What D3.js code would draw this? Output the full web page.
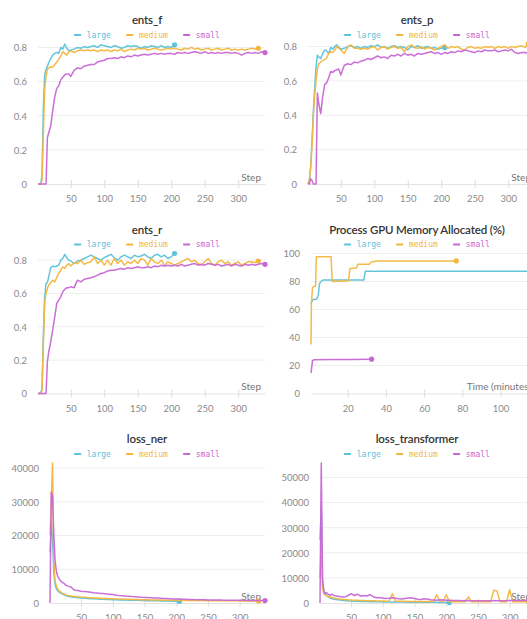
<!DOCTYPE html>
<html><head><meta charset="utf-8">
<script src="https://cdn.jsdelivr.net/npm/d3@7"></script>
<style>
html,body{margin:0;padding:0;background:#fff;overflow:hidden;}
svg{display:block;}
</style></head><body>
<svg id="chart" width="527" height="619"></svg>
<script>
// ---------- shared step grid ----------
const stepGrid = [
  1,3,5,7,9,11,13,15,17,
  20,23,26,29,32,35,38,41,44,47,50,
  55,60,65,70,75,80,85,90,95,100,
  105,110,115,120,125,130,135,140,145,150,
  155,160,165,170,175,180,185,190,195,200,
  205,
  210,215,220,225,230,235,240,245,250,255,
  260,265,270,275,280,285,290,295,300,305,
  310,315,320,325,330,
  335,340
];
const runNames = ["large","medium","small"];

// ---------- ents_f ----------
const entsF_large = [
  0,0,0,0.05,0.45,0.64,0.67,0.69,0.71,
  0.735,0.755,0.765,0.77,0.765,0.80,0.79,0.82,0.795,0.78,0.785,
  0.79,0.80,0.795,0.805,0.80,0.805,0.81,0.80,0.815,0.81,
  0.805,0.80,0.81,0.805,0.795,0.80,0.81,0.805,0.81,0.805,
  0.795,0.805,0.80,0.81,0.805,0.80,0.81,0.80,0.805,0.80,
  0.815];
const entsF_medium = [
  0,0,0,0.02,0.30,0.56,0.63,0.67,0.68,
  0.685,0.685,0.70,0.715,0.73,0.75,0.775,0.765,0.755,0.775,0.78,
  0.77,0.78,0.785,0.78,0.785,0.78,0.785,0.775,0.785,0.78,
  0.785,0.775,0.785,0.78,0.79,0.775,0.785,0.79,0.785,0.795,
  0.79,0.795,0.785,0.79,0.795,0.79,0.785,0.79,0.795,0.79,
  0.795,
  0.79,0.785,0.795,0.79,0.80,0.79,0.795,0.785,0.79,0.795,
  0.785,0.79,0.795,0.785,0.79,0.795,0.785,0.79,0.785,0.79,
  0.785,0.79,0.795,0.79,0.795];
const entsF_small = [
  0,0,0,0,0,0,0,0.27,0.30,
  0.34,0.43,0.51,0.56,0.575,0.61,0.625,0.64,0.645,0.645,0.63,
  0.665,0.68,0.675,0.69,0.695,0.70,0.70,0.715,0.72,0.725,
  0.735,0.735,0.74,0.735,0.745,0.74,0.75,0.745,0.755,0.75,
  0.755,0.76,0.755,0.76,0.765,0.76,0.765,0.76,0.765,0.765,
  0.76,
  0.77,0.765,0.77,0.765,0.77,0.775,0.77,0.765,0.775,0.765,
  0.77,0.765,0.77,0.765,0.77,0.77,0.765,0.77,0.765,0.755,
  0.765,0.77,0.765,0.77,0.765,
  0.775,0.77];

// ---------- ents_p ----------
const entsP_large = [
  0,0.02,0.10,0.25,0.42,0.56,0.68,0.75,0.74,
  0.73,0.76,0.78,0.775,0.76,0.795,0.785,0.80,0.81,0.795,0.785,
  0.79,0.80,0.805,0.795,0.80,0.79,0.80,0.795,0.805,0.80,
  0.81,0.795,0.80,0.79,0.80,0.805,0.795,0.80,0.795,0.78,
  0.80,0.795,0.805,0.79,0.795,0.80,0.79,0.795,0.785,0.79,
  0.795];
const entsP_medium = [
  0,0.02,0.10,0.22,0.40,0.52,0.60,0.67,0.70,
  0.71,0.72,0.725,0.735,0.76,0.77,0.765,0.78,0.80,0.79,0.78,
  0.76,0.795,0.81,0.79,0.79,0.785,0.79,0.785,0.795,0.80,
  0.78,0.795,0.80,0.785,0.795,0.80,0.79,0.795,0.77,0.80,
  0.81,0.795,0.79,0.80,0.785,0.795,0.79,0.78,0.79,0.80,
  0.81,
  0.79,0.80,0.795,0.80,0.785,0.78,0.795,0.80,0.79,0.795,
  0.79,0.80,0.795,0.80,0.79,0.80,0.795,0.80,0.79,0.80,
  0.795,0.80,0.805,0.795,0.815];
const entsP_small = [
  0,0,0.03,0.02,0,0,0,0.53,0.47,
  0.41,0.51,0.58,0.59,0.62,0.655,0.65,0.66,0.665,0.67,0.635,
  0.69,0.70,0.695,0.71,0.705,0.715,0.72,0.73,0.725,0.735,
  0.745,0.735,0.74,0.73,0.75,0.745,0.755,0.745,0.76,0.75,
  0.755,0.745,0.76,0.755,0.76,0.765,0.77,0.76,0.765,0.755,
  0.765,
  0.76,0.77,0.765,0.775,0.77,0.78,0.775,0.77,0.765,0.775,
  0.77,0.78,0.775,0.775,0.78,0.77,0.775,0.78,0.775,0.785,
  0.765,0.76,0.765,0.765,0.76,
  0.765,0.765];

// ---------- ents_r ----------
const entsR_large = [
  0,0,0.01,0.02,0.35,0.58,0.66,0.665,0.70,
  0.755,0.765,0.76,0.765,0.77,0.80,0.81,0.835,0.815,0.80,0.795,
  0.78,0.795,0.80,0.81,0.82,0.83,0.82,0.81,0.80,0.815,
  0.825,0.835,0.815,0.80,0.82,0.83,0.82,0.81,0.83,0.82,
  0.825,0.835,0.82,0.81,0.83,0.835,0.82,0.83,0.81,0.82,
  0.84];
const entsR_medium = [
  0,0,0,0.02,0.30,0.55,0.60,0.63,0.65,
  0.665,0.68,0.67,0.695,0.72,0.74,0.76,0.75,0.77,0.78,0.765,
  0.785,0.78,0.80,0.775,0.785,0.79,0.82,0.78,0.80,0.77,
  0.80,0.77,0.81,0.78,0.80,0.77,0.79,0.78,0.80,0.78,
  0.81,0.80,0.77,0.81,0.79,0.78,0.80,0.77,0.79,0.78,
  0.77,
  0.78,0.79,0.80,0.81,0.79,0.80,0.78,0.77,0.79,0.81,
  0.78,0.77,0.79,0.80,0.78,0.79,0.77,0.78,0.79,0.77,
  0.78,0.79,0.79,0.785,0.795];
const entsR_small = [
  0,0,0,0,0,0,0,0.19,0.25,
  0.31,0.38,0.46,0.54,0.56,0.58,0.61,0.625,0.635,0.635,0.64,
  0.635,0.68,0.67,0.685,0.69,0.695,0.70,0.71,0.72,0.725,
  0.735,0.74,0.74,0.745,0.75,0.745,0.755,0.75,0.755,0.76,
  0.755,0.755,0.76,0.755,0.765,0.76,0.77,0.765,0.77,0.765,
  0.77,
  0.765,0.775,0.765,0.77,0.775,0.78,0.77,0.775,0.77,0.78,
  0.775,0.77,0.775,0.765,0.77,0.775,0.765,0.775,0.77,0.765,
  0.775,0.77,0.775,0.77,0.775,
  0.78,0.775];

// ---------- Process GPU Memory Allocated (%) ----------
const gpuLargeT  = [0.8, 1.6, 3.8, 4.6, 5.2, 5.9, 7.0, 28.4, 29.2, 118];
const gpuLargeV  = [64, 67, 67.5, 70, 78, 80, 81, 81, 87.3, 87.4];
const gpuMediumT = [0.8, 1.0, 1.6, 2.4, 3.2, 3.6, 11.3, 11.9, 20.4, 21.2, 24.6, 25.3, 31.4, 32.3, 35.5, 76.8];
const gpuMediumV = [35, 64, 75.5, 76.5, 77, 97.6, 97.6, 80, 80.5, 89.3, 89.6, 92.3, 92.4, 94, 94.7, 94.7];
const gpuSmallT  = [0.8, 1.6, 2.4, 12, 22, 32.5];
const gpuSmallV  = [14.5, 23.5, 24.1, 24.2, 24.3, 24.5];

// ---------- loss_ner ----------
const lossNer_large = [
  15000,24000,19000,9000,5500,4300,3700,3300,3000,
  2700,2400,2200,2000,1900,1800,1700,1650,1600,1550,1500,
  1420,1350,1290,1230,1180,1130,1090,1050,1010,980,
  950,920,890,860,840,820,800,780,760,740,
  700,680,660,640,620,600,580,560,540,520,
  480];
const lossNer_medium = [
  20000,30000,41480,12000,6500,5000,4200,3700,3400,
  3000,2700,2400,2250,2150,2050,1950,1900,1850,1800,1750,
  1700,1620,1560,1500,1450,1400,1360,1320,1280,1250,
  1220,1190,1160,1130,1100,1070,1040,1010,980,960,
  940,920,900,880,860,840,820,810,800,790,
  780,
  770,760,750,740,730,720,710,700,690,680,
  670,660,655,650,645,640,635,630,625,620,
  615,610,605,600,600];
const lossNer_small = [
  0,32900,31500,20000,12500,9500,8000,7300,6700,
  6200,5800,5300,5000,4900,4600,4000,3800,3700,3600,3500,
  3400,3300,3200,3050,2950,2850,2800,2700,2600,2500,
  2300,2200,2150,2050,2000,1900,1850,1800,1700,1650,
  1600,1550,1500,1450,1400,1350,1300,1250,1200,1180,
  1150,
  1120,1100,1060,1030,1000,980,960,940,920,900,
  880,870,860,850,830,820,810,800,790,780,
  770,760,750,740,730,
  720,710];

// ---------- loss_transformer ----------
const lossT_large = [
  25000,38000,9000,4400,3600,3000,2600,2300,2000,
  1700,1500,1350,1250,1150,1050,980,930,880,830,780,
  720,660,620,580,550,520,500,480,460,440,
  420,400,390,380,370,360,350,340,330,320,
  310,300,290,280,270,260,250,230,210,180,
  150];
const lossT_medium = [
  10000,25000,6000,3700,3200,2900,2700,2500,2400,
  2200,2000,1800,1700,1600,1500,1400,1300,1250,1200,1150,
  1100,1050,1000,950,900,880,850,800,780,750,
  720,700,3700,700,680,660,650,640,630,620,
  610,600,590,580,570,560,3300,560,550,3300,
  540,
  530,530,520,520,510,2400,510,500,500,500,
  500,490,490,5050,4800,490,490,480,5300,480,
  480,470,470,470,470];
const lossT_small = [
  0,55800,9000,4700,3800,4200,3600,3300,3000,
  3500,3000,2900,2700,2600,2500,2400,2500,2800,3300,3700,
  3000,3500,2700,3000,2800,3300,2500,2100,2100,2000,
  1800,1900,2100,1900,1700,1600,1800,2000,2100,1800,
  1500,1400,1700,1600,1300,1200,1100,1300,1200,1050,
  1100,
  1000,1000,950,900,950,900,880,900,880,850,
  870,850,880,860,900,900,880,900,950,960,
  950,960,980,990,1000,
  1000,1000];

// ---------- tick values ----------
const stepTicks = [50,100,150,200,250,300];
const timeTicks = [20,40,60,80,100];
const entsYTicks = [0,0.2,0.4,0.6,0.8];
const gpuYTicks = [0,20,40,60,80,100];
const nerYTicks = [0,10000,20000,30000,40000];
const trfYTicks = [0,10000,20000,30000,40000,50000];

// ---------- build ----------
const colors = {large:"#5bc2da", medium:"#f2b63c", small:"#c767d5"};
const zipSteps = vals => vals.map((v,i)=>[stepGrid[i], v]);
const zipXY = (xs, ys) => xs.map((x,i)=>[x, ys[i]]);

const panels = [
  {title:"ents_f", col:0, row:0, xLabel:"Step", xTicks:stepTicks, yTicks:entsYTicks, left:38,
   series:{large:zipSteps(entsF_large), medium:zipSteps(entsF_medium), small:zipSteps(entsF_small)}},
  {title:"ents_p", col:1, row:0, xLabel:"Step", xTicks:stepTicks, yTicks:entsYTicks, left:38,
   series:{large:zipSteps(entsP_large), medium:zipSteps(entsP_medium), small:zipSteps(entsP_small)}},
  {title:"ents_r", col:0, row:1, xLabel:"Step", xTicks:stepTicks, yTicks:entsYTicks, left:38,
   series:{large:zipSteps(entsR_large), medium:zipSteps(entsR_medium), small:zipSteps(entsR_small)}},
  {title:"Process GPU Memory Allocated (%)", col:1, row:1, xLabel:"Time (minutes)", xTicks:timeTicks, yTicks:gpuYTicks, left:41, yMax:100,
   series:{large:zipXY(gpuLargeT,gpuLargeV), medium:zipXY(gpuMediumT,gpuMediumV), small:zipXY(gpuSmallT,gpuSmallV)}},
  {title:"loss_ner", col:0, row:2, xLabel:"Step", xTicks:stepTicks, yTicks:nerYTicks, left:50,
   series:{large:zipSteps(lossNer_large), medium:zipSteps(lossNer_medium), small:zipSteps(lossNer_small)}},
  {title:"loss_transformer", col:1, row:2, xLabel:"Step", xTicks:stepTicks, yTicks:trfYTicks, left:50,
   series:{large:zipSteps(lossT_large), medium:zipSteps(lossT_medium), small:zipSteps(lossT_small)}}
];

const svg = d3.select("#chart");
const rowTops = [0, 209.5, 419];
const tickFont = "Lato, 'Noto Sans', sans-serif";

panels.forEach(p => {
  const ox = 270 * p.col;
  const top0 = rowTops[p.row];
  const cx = 147 + ox;
  const left = p.left + ox, right = 265 + ox;
  const top = top0 + 44, bottom = top0 + 184;
  const g = svg.append("g");

  const all = runNames.flatMap(r => p.series[r]);
  const x = d3.scaleLinear().domain(d3.extent(all, d=>d[0])).range([left, right]);
  const y = d3.scaleLinear().domain([0, p.yMax || d3.max(all, d=>d[1])]).range([bottom, top]);

  // grid
  g.append("g").selectAll("line").data(p.yTicks.filter(t=>t>0)).join("line")
    .attr("x1", left).attr("x2", right)
    .attr("y1", d=>y(d)).attr("y2", d=>y(d))
    .attr("stroke", "#eeeeee").attr("stroke-width", 1);

  // x axis
  const xa = g.append("g").attr("transform", `translate(0,${bottom})`)
    .call(d3.axisBottom(x).tickValues(p.xTicks).tickSize(4).tickSizeOuter(0).tickFormat(d3.format("d")));
  xa.select(".domain").attr("stroke", "#e3e3e3");
  xa.selectAll(".tick line").attr("y1", -4).attr("y2", 4).attr("stroke", "#dddddd");
  xa.selectAll(".tick text").attr("y", 15).attr("dy", "0.35em")
    .attr("fill", "#8a8a8a").style("font-family", tickFont).style("font-size", "9.5px");

  // y axis
  const ya = g.append("g").attr("transform", `translate(${left},0)`)
    .call(d3.axisLeft(y).tickValues(p.yTicks).tickSize(0).tickPadding(11).tickFormat(d=>String(d)));
  ya.select(".domain").remove();
  ya.selectAll(".tick text").attr("dy", "0.35em")
    .attr("fill", "#8a8a8a").style("font-family", tickFont).style("font-size", "9.5px");

  // x label
  g.append("text").attr("x", right - 4).attr("y", top0 + 177).attr("dy", "0.35em")
    .attr("text-anchor", "end").attr("fill", "#777")
    .style("font-family", tickFont).style("font-size", "10px").text(p.xLabel);

  // lines
  const line = d3.line().x(d=>x(d[0])).y(d=>y(d[1]));
  runNames.forEach(r => {
    const data = p.series[r];
    g.append("path").datum(data).attr("d", line)
      .attr("fill", "none").attr("stroke", colors[r]).attr("stroke-width", 1.5)
      .attr("stroke-linejoin", "round").attr("opacity", 0.95);
    const last = data[data.length-1];
    g.append("circle").attr("cx", x(last[0])).attr("cy", y(last[1])).attr("r", 2.6)
      .attr("fill", colors[r]);
  });

  // title
  g.append("text").attr("x", cx).attr("y", top0 + 20).attr("dy", "0.35em")
    .attr("text-anchor", "middle").attr("fill", "#333")
    .style("font-family", "Lato, 'Noto Sans', sans-serif").style("font-weight", "600")
    .style("font-size", "11.5px").style("letter-spacing", "-0.15px")
    .text(p.title);

  // legend
  const lg = g.append("g");
  const items = runNames.map(r => {
    const t = lg.append("text").attr("y", top0 + 35).attr("dy", "0.35em")
      .attr("fill", colors[r]).style("font-family", "'DejaVu Sans Mono', monospace").style("font-size", "8px").text(r);
    return {r, t, w: t.node().getComputedTextLength()};
  });
  const mark = 7, gap = 5.7, sep = 15.3;
  const total = d3.sum(items, d=>d.w + mark + gap) + sep * (items.length - 1);
  let lx = cx - total / 2;
  items.forEach(it => {
    lg.append("line").attr("x1", lx).attr("x2", lx + mark)
      .attr("y1", top0 + 35).attr("y2", top0 + 35)
      .attr("stroke", colors[it.r]).attr("stroke-width", 2);
    it.t.attr("x", lx + mark + gap);
    lx += mark + gap + it.w + sep;
  });
});
</script>
</body></html>
